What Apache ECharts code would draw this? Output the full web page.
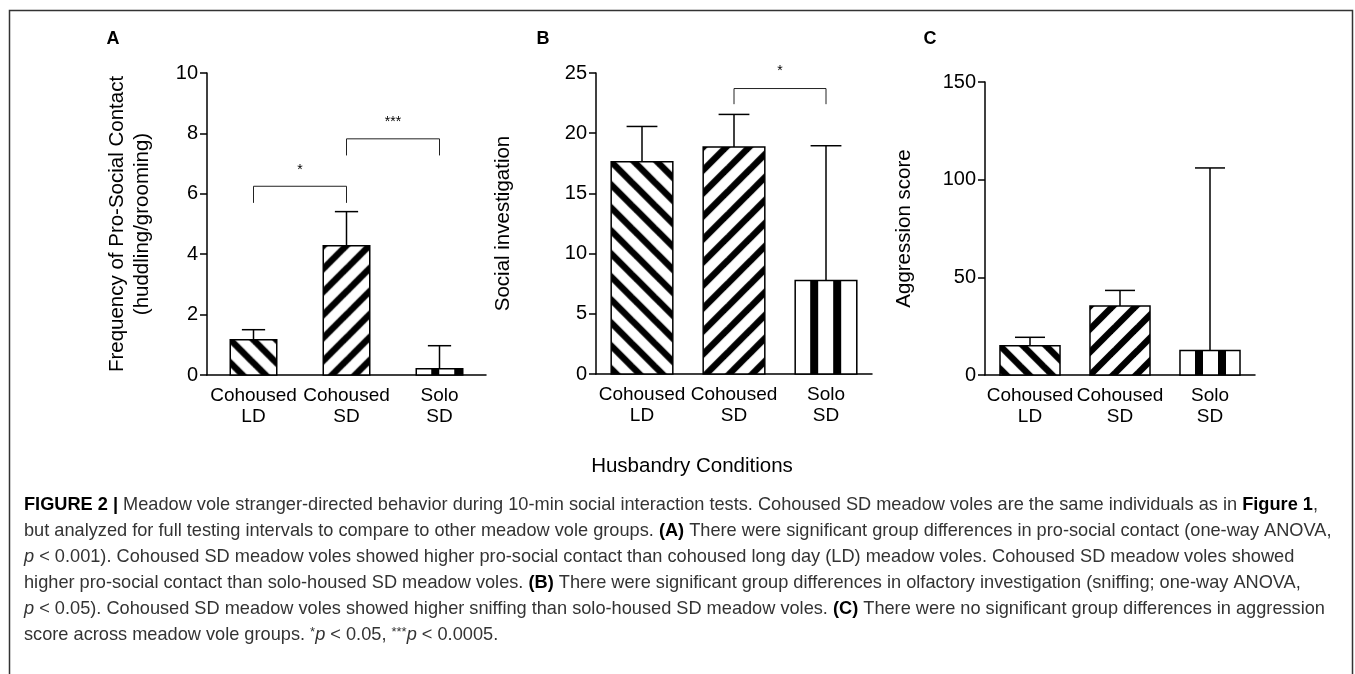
<!DOCTYPE html>
<html>
<head>
<meta charset="utf-8">
<script src="https://cdn.jsdelivr.net/npm/echarts@6/dist/echarts.min.js"></script>
<style>
  html, body { margin: 0; padding: 0; background: #fff; }
  #chart { width: 1355px; height: 674px; }
</style>
</head>
<body>
<div id="chart"></div>
<script>
const categories = ['Cohoused\nLD', 'Cohoused\nSD', 'Solo\nSD']

// A: frequency of pro-social contact, mean and SEM
const proSocialMean = [1.17, 4.28, 0.21]
const proSocialSem = [0.33, 1.13, 0.76]
const proSocialTicks = [0, 2, 4, 6, 8, 10]
// [from, to, leg end, bracket top, star level, stars]
const proSocialBrackets = [
  [0, 1, 5.7, 6.25, 6.9, '*'],
  [1, 2, 7.27, 7.82, 8.5, '***']
]

// B: social investigation
const socialMean = [17.63, 18.85, 7.76]
const socialSem = [2.93, 2.71, 11.2]
const socialTicks = [0, 5, 10, 15, 20, 25]
const socialBrackets = [
  [1, 2, 22.41, 23.71, 25.5, '*']
]

// C: aggression score
const aggressionMean = [15.0, 35.3, 12.6]
const aggressionSem = [4.3, 8.0, 93.4]
const aggressionTicks = [0, 50, 100, 150]

const captionLines = [
  '{b|FIGURE 2 |} Meadow vole stranger-directed behavior during 10-min social interaction tests. Cohoused SD meadow voles are the same individuals as in {b|Figure 1},',
  'but analyzed for full testing intervals to compare to other meadow vole groups. {b|(A)} There were significant group differences in pro-social contact (one-way ANOVA,',
  '{i|p} < 0.001). Cohoused SD meadow voles showed higher pro-social contact than cohoused long day (LD) meadow voles. Cohoused SD meadow voles showed',
  'higher pro-social contact than solo-housed SD meadow voles. {b|(B)} There were significant group differences in olfactory investigation (sniffing; one-way ANOVA,',
  '{i|p} < 0.05). Cohoused SD meadow voles showed higher sniffing than solo-housed SD meadow voles. {b|(C)} There were no significant group differences in aggression',
  'score across meadow vole groups. {s|*}{i|p} < 0.05, {s|***}{i|p} < 0.0005.'
]

const FONT = 'Liberation Sans, Arial, Helvetica, sans-serif'
const CAPTION_SIZE = 18.2

function makeStripes(kind) {
  const P = 23
  const c = document.createElement('canvas')
  c.width = P
  c.height = P
  const ctx = c.getContext('2d')
  ctx.fillStyle = '#fff'
  ctx.fillRect(0, 0, P, P)
  ctx.fillStyle = '#000'
  if (kind === 'vertical') {
    ctx.fillRect(15, 0, 8, P)
    return c
  }
  ctx.strokeStyle = '#000'
  ctx.lineWidth = 6.5
  for (let k = -2; k <= 2; k++) {
    ctx.beginPath()
    if (kind === 'back') {
      ctx.moveTo(k * P - P, -P)
      ctx.lineTo(k * P + 2 * P, 2 * P)
    } else {
      ctx.moveTo(k * P - P, 2 * P)
      ctx.lineTo(k * P + 2 * P, -P)
    }
    ctx.stroke()
  }
  return c
}

const stripeImages = [makeStripes('back'), makeStripes('forward'), makeStripes('vertical')]

function barRenderer(ratio) {
  return function (params, api) {
    const i = api.value(0)
    const mean = api.value(1)
    const sem = api.value(2)
    const base = api.coord([i, 0])
    const top = api.coord([i, mean])
    const err = api.coord([i, mean + sem])
    const w = api.size([1, 0])[0] * ratio
    const x = base[0] - w / 2
    const line = { stroke: '#000', lineWidth: 1.5 }
    return {
      type: 'group',
      children: [
        { type: 'line', shape: { x1: base[0], y1: top[1], x2: base[0], y2: err[1] }, style: line },
        { type: 'line', shape: { x1: base[0] - w / 4, y1: err[1], x2: base[0] + w / 4, y2: err[1] }, style: line },
        {
          type: 'rect',
          shape: { x: x, y: top[1], width: w, height: base[1] - top[1] },
          style: {
            fill: { image: stripeImages[i], repeat: 'repeat', x: x, y: top[1] },
            stroke: '#000',
            lineWidth: 1.5
          }
        }
      ]
    }
  }
}

function bracketRenderer(brackets) {
  return function (params, api) {
    const b = brackets[params.dataIndex]
    const l1 = api.coord([b[0], b[2]])
    const t1 = api.coord([b[0], b[3]])
    const t2 = api.coord([b[1], b[3]])
    const l2 = api.coord([b[1], b[2]])
    const sy = api.coord([b[0], b[4]])[1]
    return {
      type: 'group',
      children: [
        {
          type: 'polyline',
          shape: { points: [l1, t1, t2, l2] },
          style: { stroke: '#222', lineWidth: 1, fill: null }
        },
        {
          type: 'text',
          x: (t1[0] + t2[0]) / 2,
          y: sy - 3,
          style: { text: b[5], fontSize: 14, fontFamily: FONT, fill: '#000', align: 'center', verticalAlign: 'top' }
        }
      ]
    }
  }
}

function xAxis(gridIndex) {
  return {
    type: 'category',
    gridIndex: gridIndex,
    data: categories,
    axisLine: { lineStyle: { color: '#000', width: 1.5 } },
    axisTick: { alignWithLabel: true, length: 7, lineStyle: { color: '#000', width: 1.5 } },
    axisLabel: { color: '#000', fontSize: 19, fontFamily: FONT, lineHeight: 21, margin: 10, interval: 0 },
    splitLine: { show: false }
  }
}

function yAxis(gridIndex, ticks, name, nameGap) {
  return {
    type: 'value',
    gridIndex: gridIndex,
    min: ticks[0],
    max: ticks[ticks.length - 1],
    interval: ticks[1] - ticks[0],
    name: name,
    nameLocation: 'middle',
    nameGap: nameGap,
    nameTextStyle: { color: '#000', fontSize: 20.5, fontFamily: FONT, lineHeight: 25 },
    axisLine: { show: true, lineStyle: { color: '#000', width: 1.5 } },
    axisTick: { show: true, length: 7, lineStyle: { color: '#000', width: 1.5 } },
    axisLabel: { color: '#000', fontSize: 20, fontFamily: FONT, margin: 9 },
    splitLine: { show: false }
  }
}

function barSeries(gridIndex, means, sems, ratio) {
  return {
    type: 'custom',
    xAxisIndex: gridIndex,
    yAxisIndex: gridIndex,
    renderItem: barRenderer(ratio),
    encode: { x: 0, y: 1 },
    data: means.map((m, i) => [i, m, sems[i]])
  }
}

function bracketSeries(gridIndex, brackets) {
  return {
    type: 'custom',
    xAxisIndex: gridIndex,
    yAxisIndex: gridIndex,
    renderItem: bracketRenderer(brackets),
    encode: { x: 0, y: 1 },
    data: brackets.map(b => [b[0], b[3]])
  }
}

const captionGraphics = captionLines.map((t, k) => ({
  type: 'text',
  left: 24,
  top: 496 + k * 26,
  style: {
    text: t,
    fontSize: CAPTION_SIZE,
    fontFamily: FONT,
    fill: '#333',
    rich: {
      b: { fontSize: CAPTION_SIZE, fontFamily: FONT, fontWeight: 'bold', fill: '#000' },
      i: { fontSize: CAPTION_SIZE, fontFamily: FONT, fontStyle: 'italic', fill: '#333' },
      s: { fontSize: 13, fontFamily: FONT, fill: '#333', verticalAlign: 'top' }
    }
  }
}))

const chart = echarts.init(document.getElementById('chart'))
chart.setOption({
  animation: false,
  backgroundColor: '#fff',
  grid: [
    { left: 207, top: 73, width: 279, height: 302 },
    { left: 596, top: 73, width: 276, height: 301 },
    { left: 985, top: 82, width: 270, height: 293 }
  ],
  xAxis: [xAxis(0), xAxis(1), xAxis(2)],
  yAxis: [
    yAxis(0, proSocialTicks, 'Frequency of Pro-Social Contact\n(huddling/grooming)', 52.5),
    yAxis(1, socialTicks, 'Social investigation', 80),
    yAxis(2, aggressionTicks, 'Aggression score', 68)
  ],
  series: [
    barSeries(0, proSocialMean, proSocialSem, 0.5),
    bracketSeries(0, proSocialBrackets),
    barSeries(1, socialMean, socialSem, 0.67),
    bracketSeries(1, socialBrackets),
    barSeries(2, aggressionMean, aggressionSem, 0.667)
  ],
  graphic: [
    { type: 'rect', shape: { x: 9.5, y: 10.5, width: 1343, height: 700 }, style: { fill: null, stroke: '#333', lineWidth: 1.5 } },
    { type: 'text', x: 113, y: 39, style: { text: 'A', fontSize: 18, fontWeight: 'bold', fontFamily: FONT, fill: '#000', align: 'center', verticalAlign: 'middle' } },
    { type: 'text', x: 543, y: 39, style: { text: 'B', fontSize: 18, fontWeight: 'bold', fontFamily: FONT, fill: '#000', align: 'center', verticalAlign: 'middle' } },
    { type: 'text', x: 930, y: 39, style: { text: 'C', fontSize: 18, fontWeight: 'bold', fontFamily: FONT, fill: '#000', align: 'center', verticalAlign: 'middle' } },
    { type: 'text', x: 692, y: 466, style: { text: 'Husbandry Conditions', fontSize: 20.5, fontFamily: FONT, fill: '#000', align: 'center', verticalAlign: 'middle' } }
  ].concat(captionGraphics)
})
</script>
</body>
</html>
